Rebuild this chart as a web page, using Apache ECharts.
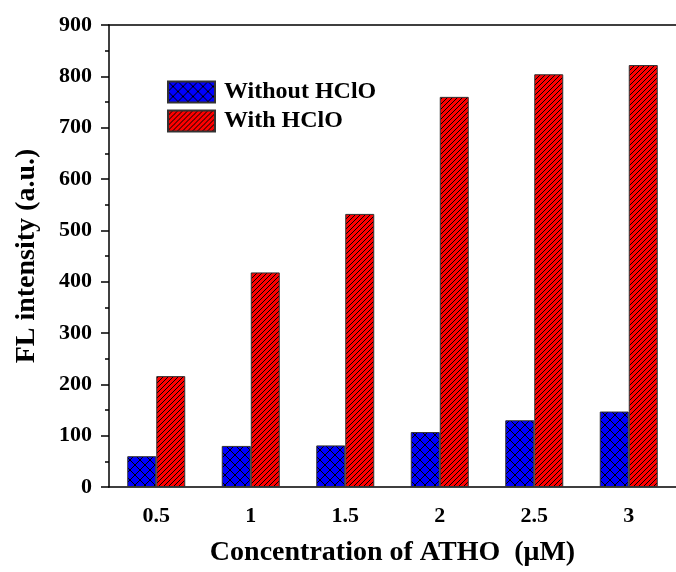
<!DOCTYPE html>
<html>
<head>
    <meta charset="utf-8" />
    <title>FL intensity vs ATHO concentration</title>
    <script src="https://cdn.jsdelivr.net/npm/echarts@6/dist/echarts.min.js"></script>
    <style type="text/css">
        html,
        body {
            width: 100%;
            height: 100%;
            margin: 0;
            background: #fff;
        }

        #main {
            width: 676px;
            height: 572px;
        }
    </style>
</head>

<body>
    <div id="main"></div>
    <script>
        // data
        var concentrations = ['0.5', '1', '1.5', '2', '2.5', '3'];
        var withoutHClO = [60, 80, 81, 107, 130, 147];
        var withHClO = [216, 418, 532, 760, 804, 822];

        var serif = '"Liberation Serif", "DejaVu Serif", serif';

        // hatch fills drawn on small canvases
        function hatch(bg, size, cross) {
            var c = document.createElement('canvas');
            c.width = size;
            c.height = size;
            var ctx = c.getContext('2d');
            ctx.fillStyle = bg;
            ctx.fillRect(0, 0, size, size);
            ctx.strokeStyle = '#000';
            ctx.lineWidth = 1;
            ctx.beginPath();
            for (var k = -1; k <= 1; k++) {
                // "/" lines
                ctx.moveTo(k * size - 1, size + 1);
                ctx.lineTo(k * size + size + 1, -1);
            }
            ctx.stroke();
            if (cross) {
                ctx.beginPath();
                for (var j = -1; j <= 1; j++) {
                    // "\" lines
                    ctx.moveTo(j * size - 1, -1);
                    ctx.lineTo(j * size + size + 1, size + 1);
                }
                ctx.stroke();
            }
            return c;
        }

        var bluePattern = { image: hatch('#0000ff', 10, true), repeat: 'repeat' };
        var redPattern = { image: hatch('#ff0000', 5, false), repeat: 'repeat' };

        var myChart = echarts.init(document.getElementById('main'));
        var option = {
            backgroundColor: '#fff',
            animation: false,
            grid: {
                left: 109,
                right: -6,
                top: 25,
                bottom: 83
            },
            legend: {
                orient: 'vertical',
                left: 162,
                top: 75,
                itemWidth: 47,
                itemHeight: 21,
                itemGap: 5,
                icon: 'rect',
                textStyle: {
                    fontFamily: serif,
                    fontWeight: 'bold',
                    fontSize: 24,
                    color: '#000',
                    padding: [0, 0, 0, 4]
                },
                data: ['Without HClO', 'With HClO']
            },
            xAxis: [
                {
                    type: 'category',
                    data: concentrations,
                    name: 'Concentration of ATHO  (\u03bcM)',
                    nameLocation: 'middle',
                    nameGap: 52,
                    nameTextStyle: {
                        fontFamily: serif,
                        fontWeight: 'bold',
                        fontSize: 28,
                        color: '#000'
                    },
                    axisLine: { lineStyle: { color: '#000', width: 1.5 } },
                    axisTick: { alignWithLabel: true, length: 7, lineStyle: { color: '#000', width: 1.5 } },
                    axisLabel: {
                        margin: 18,
                        fontFamily: serif,
                        fontWeight: 'bold',
                        fontSize: 22,
                        color: '#000'
                    }
                },
                {
                    // boundary (minor) ticks
                    type: 'category',
                    data: concentrations,
                    position: 'bottom',
                    axisLine: { show: false },
                    axisTick: { length: 4, lineStyle: { color: '#000', width: 1.5 } },
                    axisLabel: { show: false }
                },
                {
                    // top frame line
                    type: 'category',
                    data: concentrations,
                    position: 'top',
                    axisLine: { lineStyle: { color: '#000', width: 1.5 } },
                    axisTick: { show: false },
                    axisLabel: { show: false }
                }
            ],
            yAxis: {
                type: 'value',
                min: 0,
                max: 900,
                interval: 100,
                name: 'FL intensity (a.u.)',
                nameLocation: 'middle',
                nameGap: 68,
                nameTextStyle: {
                    fontFamily: serif,
                    fontWeight: 'bold',
                    fontSize: 28,
                    color: '#000'
                },
                axisLine: { show: true, lineStyle: { color: '#000', width: 1.5 } },
                axisTick: { show: true, length: 8, lineStyle: { color: '#000', width: 1.5 } },
                minorTick: { show: true, splitNumber: 2, length: 4, lineStyle: { color: '#000', width: 1.5 } },
                splitLine: { show: false },
                axisLabel: {
                    margin: 17,
                    fontFamily: serif,
                    fontWeight: 'bold',
                    fontSize: 22,
                    color: '#000'
                }
            },
            series: [
                {
                    name: 'Without HClO',
                    type: 'bar',
                    xAxisIndex: 0,
                    data: withoutHClO,
                    barWidth: 29,
                    barGap: '0%',
                    itemStyle: {
                        color: bluePattern,
                        borderColor: '#333',
                        borderWidth: 1
                    }
                },
                {
                    name: 'With HClO',
                    type: 'bar',
                    xAxisIndex: 0,
                    data: withHClO,
                    barWidth: 29,
                    barGap: '0%',
                    itemStyle: {
                        color: redPattern,
                        borderColor: '#333',
                        borderWidth: 1
                    }
                }
            ]
        };
        myChart.setOption(option);
    </script>
</body>
</html>
